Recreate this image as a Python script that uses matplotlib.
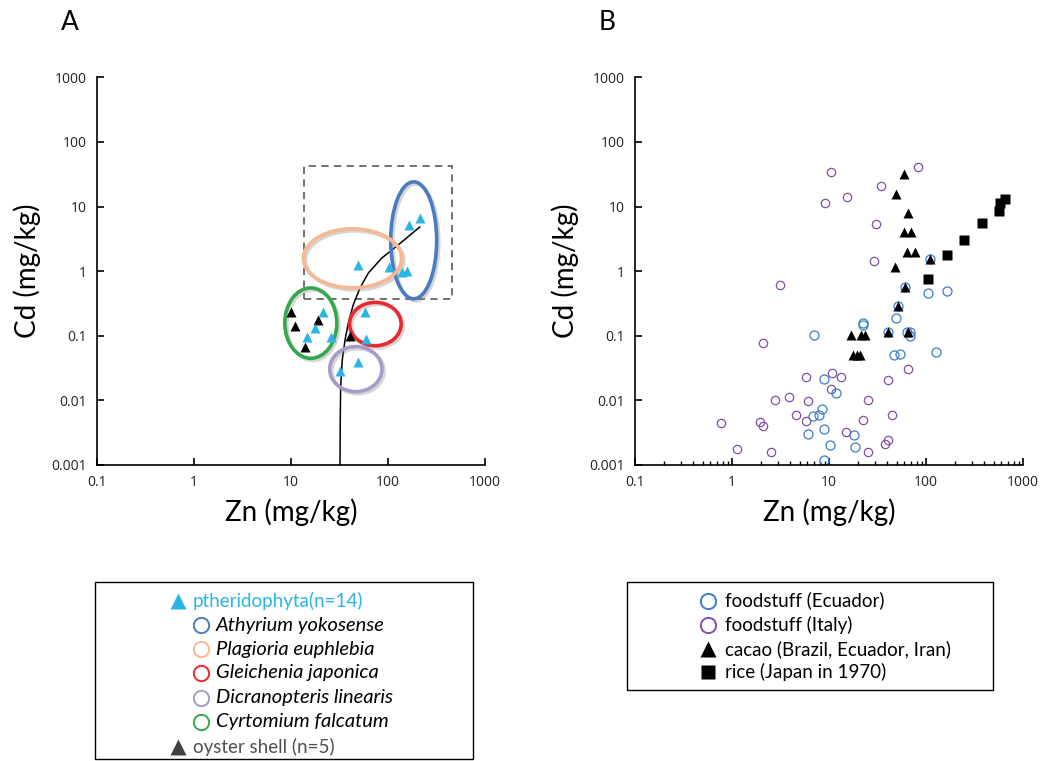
import numpy as np
import matplotlib
matplotlib.use("Agg")
import matplotlib.pyplot as plt
import matplotlib.patheffects as pe
from matplotlib.patches import Ellipse, Rectangle
from matplotlib.lines import Line2D

plt.rcParams['font.family'] = ['Lato', 'DejaVu Sans']

# ---- panel A data (Zn, Cd in mg/kg) ----
fern_zn = [214, 164, 48.7, 103, 139, 158, 21.6, 17.7, 14.7, 25.7, 57.5, 59.4, 49.2, 32.1]
fern_cd = [6.7, 5.1, 1.26, 1.17, 0.97, 1.02, 0.23, 0.133, 0.097, 0.097, 0.23, 0.088, 0.0387, 0.0288]
oyster_zn = [9.96, 11.0, 19.2, 14.1, 40.1]
oyster_cd = [0.233, 0.143, 0.173, 0.068, 0.098]
# fitted curve
curve_zn = [32.0, 32.2, 32.5, 33.8, 36.1, 39.0, 43.9, 51.4, 62.7, 86.1, 128, 206, 213]
curve_cd = [0.001, 0.00505, 0.0165, 0.0428, 0.0871, 0.158, 0.303, 0.548, 0.936, 1.59, 2.56, 4.64, 4.8]

# species ellipses: centre (Zn, Cd), width / height in decades
species = ['Athyrium yokosense', 'Plagioria euphlebia', 'Gleichenia japonica',
           'Dicranopteris linearis', 'Cyrtomium falcatum']
species_colors = ['#4A7DC0', '#F6B992', '#E82A2E', '#A99BC9', '#34A84C']
ell_zn = [184, 43.1, 74.1, 46.6, 16.0]
ell_cd = [3.0, 1.58, 0.152, 0.0305, 0.157]
ell_w = [0.474, 1.013, 0.532, 0.539, 0.536]
ell_h = [1.81, 0.913, 0.671, 0.697, 1.089]
box_zn = [13.5, 461]
box_cd = [0.366, 43]

# ---- panel B data ----
italy_zn = [10.5, 82.8, 34.7, 15.4, 9.14, 30.3, 29.2, 3.09, 2.07, 5.86, 10.7, 13.3, 10.5,
            65.9, 40.6, 2.79, 3.86, 6.10, 25.5, 0.774, 1.94, 2.08, 4.62, 5.77, 22.3, 44.8,
            1.12, 2.54, 14.8, 25.5, 41.0, 37.9]
italy_cd = [34.7, 40.9, 20.6, 14.1, 11.4, 5.43, 1.42, 0.61, 0.077, 0.023, 0.0265, 0.0227, 0.0152,
            0.0305, 0.0204, 0.0103, 0.0113, 0.0098, 0.0102, 0.0045, 0.0047, 0.00396, 0.0060, 0.00484,
            0.00502, 0.00593, 0.00179, 0.0016, 0.0032, 0.00157, 0.00246, 0.00211]
ecuador_zn = [111, 61.4, 106, 165, 52.0, 22.3, 22.5, 49.2, 7.03, 40.6, 63.4, 68.6, 68.6, 46.9,
              54.5, 127, 8.85, 11.7, 8.51, 6.92, 7.85, 8.85, 6.10, 10.3, 18.2, 18.7, 8.85]
ecuador_cd = [1.52, 0.575, 0.465, 0.487, 0.288, 0.156, 0.145, 0.186, 0.101, 0.116, 0.116, 0.116,
              0.098, 0.051, 0.0516, 0.056, 0.0211, 0.0130, 0.00727, 0.00566, 0.0060, 0.00364,
              0.00305, 0.00206, 0.00287, 0.00187, 0.00121]
cacao_zn = [60.0, 49.5, 64.9, 59.4, 70.2, 64.4, 77.3, 48.4, 111, 61, 52, 40.3, 65, 16.8, 21.4,
            23.4, 17.7, 19.4, 20.8]
cacao_cd = [31.5, 15.6, 7.85, 3.99, 3.99, 1.98, 1.98, 1.17, 1.52, 0.575, 0.288, 0.116, 0.116,
            0.101, 0.101, 0.101, 0.0497, 0.0497, 0.0497]
rice_zn = [106, 166, 247, 375, 562, 585, 647]
rice_cd = [0.746, 1.80, 3.06, 5.49, 8.43, 11.2, 12.9]

legend_a = ['ptheridophyta(n=14)'] + species + ['oyster shell (n=5)']
legend_b = ['foodstuff (Ecuador)', 'foodstuff (Italy)',
            'cacao (Brazil, Ecuador, Iran)', 'rice (Japan in 1970)']

xticks = [0.1, 1, 10, 100, 1000]
xlabels = ['0.1', '1', '10', '100', '1000']
yticks = [0.001, 0.01, 0.1, 1, 10, 100, 1000]
ylabels = ['0.001', '0.01', '0.1', '1', '10', '100', '1000']

CYAN = '#2BB4E6'
W, H = 1042, 761


def fx(px):
    return px / W


def fy(py):
    return 1 - py / H


fig = plt.figure(figsize=(10.42, 7.61), dpi=100)
axA = fig.add_axes([fx(97), fy(465), fx(485) - fx(97), fy(77.3) - fy(465)])
axB = fig.add_axes([fx(635), fy(465), fx(1023) - fx(635), fy(77.3) - fy(465)])

for ax in (axA, axB):
    ax.set_xscale('log')
    ax.set_yscale('log')
    ax.set_xlim(0.1, 1000)
    ax.set_ylim(0.001, 1000)
    ax.spines['top'].set_visible(False)
    ax.spines['right'].set_visible(False)
    ax.spines['left'].set_linewidth(1.2)
    ax.spines['bottom'].set_linewidth(1.2)
    ax.set_xticks(xticks)
    ax.set_xticklabels(xlabels)
    ax.set_yticks(yticks)
    ax.set_yticklabels(ylabels)
    ax.yaxis.set_minor_locator(matplotlib.ticker.NullLocator())
    ax.tick_params(which='major', direction='in', length=5, width=1.2,
                   labelsize=10, pad=7, labelcolor='#222222')
    for lab in ax.get_xticklabels() + ax.get_yticklabels():
        lab.set_family(['Open Sans', 'DejaVu Sans'])
    ax.set_xlabel('Zn (mg/kg)', fontsize=20, labelpad=6)
    ax.set_ylabel('Cd (mg/kg)', fontsize=20, labelpad=8)

axA.xaxis.set_minor_locator(matplotlib.ticker.NullLocator())
axB.xaxis.set_minor_locator(matplotlib.ticker.LogLocator(base=10, subs=np.arange(2, 10)))
axB.xaxis.set_minor_formatter(matplotlib.ticker.NullFormatter())
axB.tick_params(which='minor', direction='in', length=3, width=1)

# ---- panel A ----
axA.add_patch(Rectangle((box_zn[0], box_cd[0]), box_zn[1] - box_zn[0], box_cd[1] - box_cd[0],
                        fill=False, ls=(0, (4, 3)), lw=1.3, ec='#666666', zorder=1))
axA.plot(curve_zn, curve_cd, color='black', lw=1.1, zorder=2)
for i in range(len(species)):
    cx, cy = axA.transAxes.inverted().transform(axA.transData.transform((ell_zn[i], ell_cd[i])))
    e = Ellipse((cx, cy), ell_w[i] / 4, ell_h[i] / 6, transform=axA.transAxes,
                fill=False, ec=species_colors[i], lw=2.6, zorder=3)
    e.set_path_effects([pe.SimpleLineShadow(offset=(1.5, -1.5), shadow_color='#888888', alpha=0.35),
                        pe.Normal()])
    axA.add_patch(e)
axA.plot(oyster_zn, oyster_cd, '^', color='black', ms=7, mec='none', zorder=4)
axA.plot(fern_zn, fern_cd, '^', color=CYAN, ms=7, mec='none', zorder=5)

# ---- panel B ----
axB.plot(italy_zn, italy_cd, 'o', mfc='none', mec='#7E50A8', mew=0.9, ms=6, zorder=2)
axB.plot(ecuador_zn, ecuador_cd, 'o', mfc='none', mec='#3D7CC9', mew=0.9, ms=6.5, zorder=2)
axB.plot(cacao_zn, cacao_cd, '^', color='black', ms=6.5, mec='none', zorder=3)
axB.plot(rice_zn, rice_cd, 's', color='black', ms=7, mec='none', zorder=3)

fig.text(fx(70), fy(23), 'A', fontsize=19, ha='center', va='center')
fig.text(fx(607), fy(23), 'B', fontsize=19, ha='center', va='center')

# ---- legend A ----
fig.add_artist(Rectangle((fx(95), fy(759)), fx(473) - fx(95), fy(582) - fy(759),
                         transform=fig.transFigure, fill=False, ec='black', lw=1))
rows_a = [600.7, 625.3, 649, 672.7, 697.7, 721.7, 746.7]
fig.add_artist(Line2D([fx(178)], [fy(rows_a[0])], marker='^', ms=11, color=CYAN, mec='none',
                      transform=fig.transFigure))
fig.text(fx(193), fy(rows_a[0]), legend_a[0], color=CYAN, fontsize=13.5, va='center')
for i in range(len(species)):
    fig.add_artist(Line2D([fx(201)], [fy(rows_a[i + 1])], marker='o', ms=11, mfc='none',
                          mec=species_colors[i], mew=1.4, transform=fig.transFigure))
    fig.text(fx(216), fy(rows_a[i + 1]), legend_a[i + 1], fontsize=14.5, style='italic',
             va='center')
fig.add_artist(Line2D([fx(178)], [fy(rows_a[6])], marker='^', ms=11, color='#404040', mec='none',
                      transform=fig.transFigure))
fig.text(fx(193), fy(rows_a[6]), legend_a[6], color='#505050', fontsize=13.5, va='center')

# ---- legend B ----
fig.add_artist(Rectangle((fx(627), fy(690)), fx(993) - fx(627), fy(582) - fy(690),
                         transform=fig.transFigure, fill=False, ec='black', lw=1))
rows_b = [600.7, 625, 649, 672.3]
styles_b = [dict(marker='o', ms=11, mfc='none', mec='#3D7CC9', mew=1.4),
            dict(marker='o', ms=11, mfc='none', mec='#7E50A8', mew=1.4),
            dict(marker='^', ms=11, color='black', mec='none'),
            dict(marker='s', ms=10, color='black', mec='none')]
for i in range(len(legend_b)):
    fig.add_artist(Line2D([fx(708)], [fy(rows_b[i])], transform=fig.transFigure, **styles_b[i]))
    fig.text(fx(725), fy(rows_b[i]), legend_b[i], fontsize=13.5, va='center')

fig.savefig('out.png', dpi=100)
